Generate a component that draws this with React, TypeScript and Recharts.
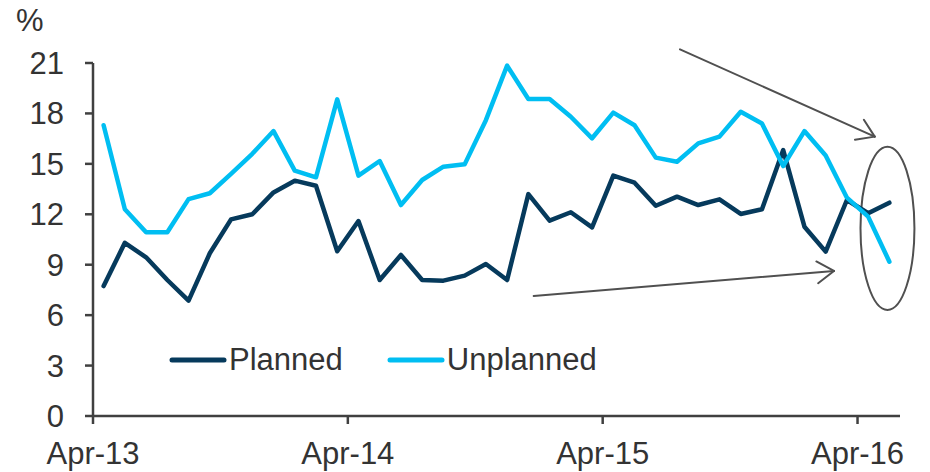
import React from "react";
import {
  LineChart,
  Line,
  XAxis,
  YAxis,
  ReferenceLine,
  ReferenceArea,
} from "recharts";

// Monthly shares (%), Apr-13 through May-16
const planned = [
  7.73, 10.3, 9.44, 8.09, 6.86, 9.68, 11.7, 12.0, 13.3, 14.0, 13.7, 9.8, 11.6,
  8.09, 9.58, 8.09, 8.05, 8.35, 9.04, 8.09, 13.2, 11.62, 12.12, 11.22,
  14.3, 13.88, 12.51, 13.05, 12.55, 12.89, 12.02, 12.3, 15.82, 11.26, 9.78, 12.85, 12.06, 12.69,
];
const unplanned = [
  17.3, 12.3, 10.93, 10.93, 12.9, 13.25, 14.4, 15.6, 16.95, 14.6, 14.2, 18.84, 14.3,
  15.17, 12.55, 14.04, 14.83, 14.97, 17.6, 20.84, 18.86, 18.86, 17.8, 16.52,
  18.05, 17.3, 15.37, 15.13, 16.22, 16.62, 18.1, 17.4, 14.87, 16.95, 15.5, 12.99, 11.86, 9.18,
];

// Year markers sit on month boundaries; each month's value sits mid-month
const xTickPositions = [0, 12, 24, 36];
const xTickLabels = ["Apr-13", "Apr-14", "Apr-15", "Apr-16"];
const yTicks = [0, 3, 6, 9, 12, 15, 18, 21];

const data = planned.map((p, i) => ({
  x: i + 0.5,
  planned: p,
  unplanned: unplanned[i],
}));

const FONT = "'Liberation Sans', Arial, sans-serif";
const FONT_SIZE = 31;
const TEXT = "#333333";
const AXIS = "#404040";
const PLANNED_COLOR = "#063a5c";
const UNPLANNED_COLOR = "#00bef2";
const NOTE = "#505050";

const series = [
  { name: "Planned", color: PLANNED_COLOR },
  { name: "Unplanned", color: UNPLANNED_COLOR },
];

// Open arrow: shaft plus two short barbs at the end point
const Arrow = (props: any) => {
  const { x1, y1, x2, y2 } = props;
  const ang = Math.atan2(y2 - y1, x2 - x1);
  const len = 20;
  const spread = (33 * Math.PI) / 180;
  const bx1 = x2 - len * Math.cos(ang - spread);
  const by1 = y2 - len * Math.sin(ang - spread);
  const bx2 = x2 - len * Math.cos(ang + spread);
  const by2 = y2 - len * Math.sin(ang + spread);
  return (
    <g stroke={NOTE} strokeWidth={2} fill="none" strokeLinecap="round">
      <line x1={x1} y1={y1} x2={x2} y2={y2} />
      <line x1={bx1} y1={by1} x2={x2} y2={y2} />
      <line x1={bx2} y1={by2} x2={x2} y2={y2} />
    </g>
  );
};

const Oval = (props: any) => {
  const { x, y, width, height } = props;
  return (
    <ellipse
      cx={x + width / 2}
      cy={y + height / 2}
      rx={Math.abs(width) / 2}
      ry={Math.abs(height) / 2}
      fill="none"
      stroke={NOTE}
      strokeWidth={2}
    />
  );
};

export default function App() {
  return (
    <div style={{ position: "absolute", left: 0, top: 0, width: 930, height: 472, background: "#fff" }}>
      <LineChart
        width={930}
        height={472}
        data={data}
        margin={{ top: 63, right: 30, left: 0, bottom: 0 }}
      >
        <XAxis
          dataKey="x"
          type="number"
          domain={[0, 38]}
          ticks={xTickPositions}
          tickFormatter={(v: number) => xTickLabels[xTickPositions.indexOf(v)]}
          height={56}
          stroke={AXIS}
          strokeWidth={2.5}
          tickSize={8}
          tickMargin={18}
          tick={{ fill: TEXT, fontSize: FONT_SIZE, fontFamily: FONT }}
          interval={0}
        />
        <YAxis
          type="number"
          domain={[0, 21]}
          ticks={yTicks}
          width={93}
          stroke={AXIS}
          strokeWidth={2.5}
          tickSize={8}
          tickMargin={21}
          tick={{ fill: TEXT, fontSize: FONT_SIZE, fontFamily: FONT }}
          interval={0}
        />
        <Line
          dataKey="planned"
          name="Planned"
          stroke={PLANNED_COLOR}
          strokeWidth={4.5}
          strokeLinejoin="round"
          strokeLinecap="round"
          dot={false}
          isAnimationActive={false}
        />
        <Line
          dataKey="unplanned"
          name="Unplanned"
          stroke={UNPLANNED_COLOR}
          strokeWidth={4.5}
          strokeLinejoin="round"
          strokeLinecap="round"
          dot={false}
          isAnimationActive={false}
        />
        <ReferenceLine
          segment={[
            { x: 27.64, y: 21.81 },
            { x: 36.81, y: 16.62 },
          ]}
          ifOverflow="visible"
          shape={Arrow}
        />
        <ReferenceLine
          segment={[
            { x: 20.75, y: 7.14 },
            { x: 34.89, y: 8.63 },
          ]}
          ifOverflow="visible"
          shape={Arrow}
        />
        <ReferenceArea
          x1={36.14}
          x2={38.68}
          y1={6.31}
          y2={16.02}
          ifOverflow="visible"
          shape={Oval}
        />
      </LineChart>

      {/* unit label above the value axis */}
      <div
        style={{
          position: "absolute",
          left: 16,
          top: 2,
          fontFamily: FONT,
          fontSize: FONT_SIZE,
          color: TEXT,
          lineHeight: "38px",
        }}
      >
        %
      </div>

      {/* series key, placed inside the plot area */}
      <div
        style={{
          position: "absolute",
          left: 169,
          top: 341,
          display: "flex",
          alignItems: "center",
          fontFamily: FONT,
          fontSize: FONT_SIZE,
          color: TEXT,
          lineHeight: "38px",
        }}
      >
        {series.map((item, i) => (
          <div key={item.name} style={{ display: "flex", alignItems: "center", marginRight: i === 0 ? 44 : 0 }}>
            <svg width={58} height={8} style={{ marginRight: 2 }}>
              <line x1={3} y1={4} x2={55} y2={4} stroke={item.color} strokeWidth={5} strokeLinecap="round" />
            </svg>
            <span>{item.name}</span>
          </div>
        ))}
      </div>
    </div>
  );
}
